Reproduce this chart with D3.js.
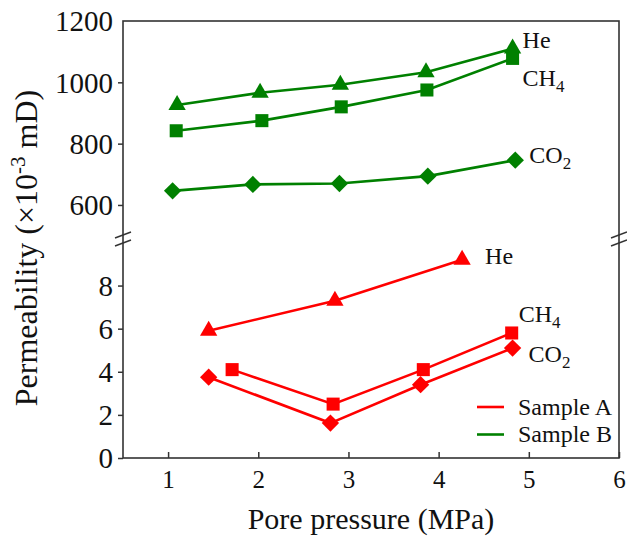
<!DOCTYPE html>
<html>
<head>
<meta charset="utf-8">
<script src="https://cdn.jsdelivr.net/npm/d3@7"></script>
<style>
  html, body { margin: 0; padding: 0; background: #fff; }
  svg { display: block; }
  text { font-family: "Liberation Serif", "Times New Roman", serif; fill: #111; }
</style>
</head>
<body>
<svg id="chart" width="627" height="540"></svg>
<script>
// Permeability vs pore pressure for two samples and three gases
const xTicks = [1, 2, 3, 4, 5, 6];
const yTicksUpper = [600, 800, 1000, 1200];
const yTicksLower = [0, 2, 4, 6, 8];

// Sample B (upper, ×10^-3 mD scale)
const bHeX  = [1.10, 2.02, 2.91, 3.86, 4.82];
const bHeY  = [926, 966, 992, 1033, 1110];
const bCH4X = [1.09, 2.04, 2.92, 3.87, 4.82];
const bCH4Y = [842, 875, 920, 975, 1078];
const bCO2X = [1.05, 1.94, 2.90, 3.88, 4.85];
const bCO2Y = [646, 667, 670, 694, 746];

// Sample A (lower scale)
const aHeX  = [1.45, 2.85, 4.26];
const aHeY  = [5.9, 7.3, 9.2];
const aCH4X = [1.71, 2.83, 3.83, 4.81];
const aCH4Y = [4.1, 2.5, 4.1, 5.8];
const aCO2X = [1.45, 2.80, 3.80, 4.82];
const aCO2Y = [3.75, 1.62, 3.4, 5.1];

const gases = ["He", "CH4", "CO2"];
const sampleNames = ["Sample A", "Sample B"];

const FONT = '"Liberation Serif", "Times New Roman", serif';
const m = { left: 123, right: 619, top: 21, bottom: 458 };
const breakY = 239;

const RED = "#ff0000", GREEN = "#008000", AXIS = "#333";

const svg = d3.select("#chart");

const x = d3.scaleLinear().domain([0.5, 6]).range([m.left, m.right]);
const yUp = d3.scaleLinear().domain([489, 1200]).range([breakY, m.top]);
const yLo = d3.scaleLinear().domain([0, 10.16]).range([m.bottom, breakY]);

const series = [
  { gas: "He",  xs: bHeX,  ys: bHeY,  y: yUp, color: GREEN, sym: "tri", lab: [10, -1] },
  { gas: "CH4", xs: bCH4X, ys: bCH4Y, y: yUp, color: GREEN, sym: "sq",  lab: [10, 28] },
  { gas: "CO2", xs: bCO2X, ys: bCO2Y, y: yUp, color: GREEN, sym: "dia", lab: [14, 3] },
  { gas: "He",  xs: aHeX,  ys: aHeY,  y: yLo, color: RED,   sym: "tri", lab: [23, 4] },
  { gas: "CH4", xs: aCH4X, ys: aCH4Y, y: yLo, color: RED,   sym: "sq",  lab: [7, -11] },
  { gas: "CO2", xs: aCO2X, ys: aCO2Y, y: yLo, color: RED,   sym: "dia", lab: [16, 14] },
];

const symbols = {
  tri: d3.symbol().type(d3.symbolTriangle).size(130)(),
  sq:  d3.symbol().type(d3.symbolSquare).size(170)(),
  dia: d3.symbol().type(d3.symbolSquare).size(150)(),
};

// Axes
const gx = svg.append("g").attr("transform", `translate(0,${m.bottom})`)
  .call(d3.axisBottom(x).tickValues(xTicks).tickSize(-6).tickPadding(12).tickFormat(d3.format("d")));
const gyU = svg.append("g").attr("transform", `translate(${m.left},0)`)
  .call(d3.axisLeft(yUp).tickValues(yTicksUpper).tickSize(5).tickPadding(5).tickFormat(d3.format("d")));
const gyL = svg.append("g").attr("transform", `translate(${m.left},0)`)
  .call(d3.axisLeft(yLo).tickValues(yTicksLower).tickSize(5).tickPadding(5).tickFormat(d3.format("d")));

[gx, gyU, gyL].forEach(g => {
  g.attr("font-family", FONT);
  g.select(".domain").remove();
  g.selectAll(".tick line").attr("stroke", AXIS).attr("stroke-width", 1.5);
});
gx.attr("font-size", 25);
gyU.attr("font-size", 29);
gyL.attr("font-size", 29);
gx.selectAll(".tick text").attr("fill", "#111");
gyU.selectAll(".tick text").attr("fill", "#111").attr("dy", "0.34em");
gyL.selectAll(".tick text").attr("fill", "#111").attr("dy", "0.34em");
gyU.selectAll(".tick").filter(d => d === 1200).select("line").remove();

// Frame
svg.append("rect")
  .attr("x", m.left).attr("y", m.top)
  .attr("width", m.right - m.left).attr("height", m.bottom - m.top)
  .attr("fill", "none").attr("stroke", AXIS).attr("stroke-width", 1.6);

// Axis break marks
[m.left, m.right].forEach(px => {
  [-4, 4].forEach(off => {
    svg.append("line")
      .attr("x1", px - 8).attr("y1", breakY + off + 3)
      .attr("x2", px + 8).attr("y2", breakY + off - 3)
      .attr("stroke", AXIS).attr("stroke-width", 1.5);
  });
});

// Lines and markers
const plot = svg.append("g");
series.forEach(s => {
  const pts = s.xs.map((v, i) => [x(v), s.y(s.ys[i])]);
  plot.append("path")
    .attr("d", d3.line()(pts))
    .attr("fill", "none").attr("stroke", s.color).attr("stroke-width", 2.6);
  plot.selectAll(null).data(pts).enter().append("path")
    .attr("d", symbols[s.sym])
    .attr("transform", d => `translate(${d[0]},${d[1]})` + (s.sym === "dia" ? " rotate(45)" : ""))
    .attr("fill", s.color);
});

// Gas labels with subscripts
series.forEach(s => {
  const n = s.xs.length - 1;
  const t = svg.append("text")
    .attr("x", x(s.xs[n]) + s.lab[0])
    .attr("y", s.y(s.ys[n]) + s.lab[1])
    .style("font-size", "24px");
  const m2 = s.gas.match(/^([A-Za-z]+?)(\d*)$/);
  t.append("tspan").text(m2[1]);
  if (m2[2]) t.append("tspan").attr("dy", 6).style("font-size", "17px").text(m2[2]);
});

// Legend
const legend = svg.append("g");
[RED, GREEN].forEach((c, i) => {
  const ly = 407 + i * 27.5;
  legend.append("line").attr("x1", 477).attr("x2", 504).attr("y1", ly).attr("y2", ly)
    .attr("stroke", c).attr("stroke-width", 2.6);
  legend.append("text").attr("x", 518).attr("y", ly + 7.5)
    .style("font-size", "24px").text(sampleNames[i]);
});

// Axis titles
svg.append("text")
  .attr("x", (m.left + m.right) / 2).attr("y", 529)
  .attr("text-anchor", "middle").style("font-size", "30px")
  .text("Pore pressure (MPa)");

const yt = svg.append("text")
  .attr("transform", `translate(37,248) rotate(-90)`)
  .attr("text-anchor", "middle").style("font-size", "32px");
yt.append("tspan").text("Permeability (\u00d710");
yt.append("tspan").attr("dy", -12).style("font-size", "21px").text("-3");
yt.append("tspan").attr("dy", 12).text(" mD)");
</script>
</body>
</html>
